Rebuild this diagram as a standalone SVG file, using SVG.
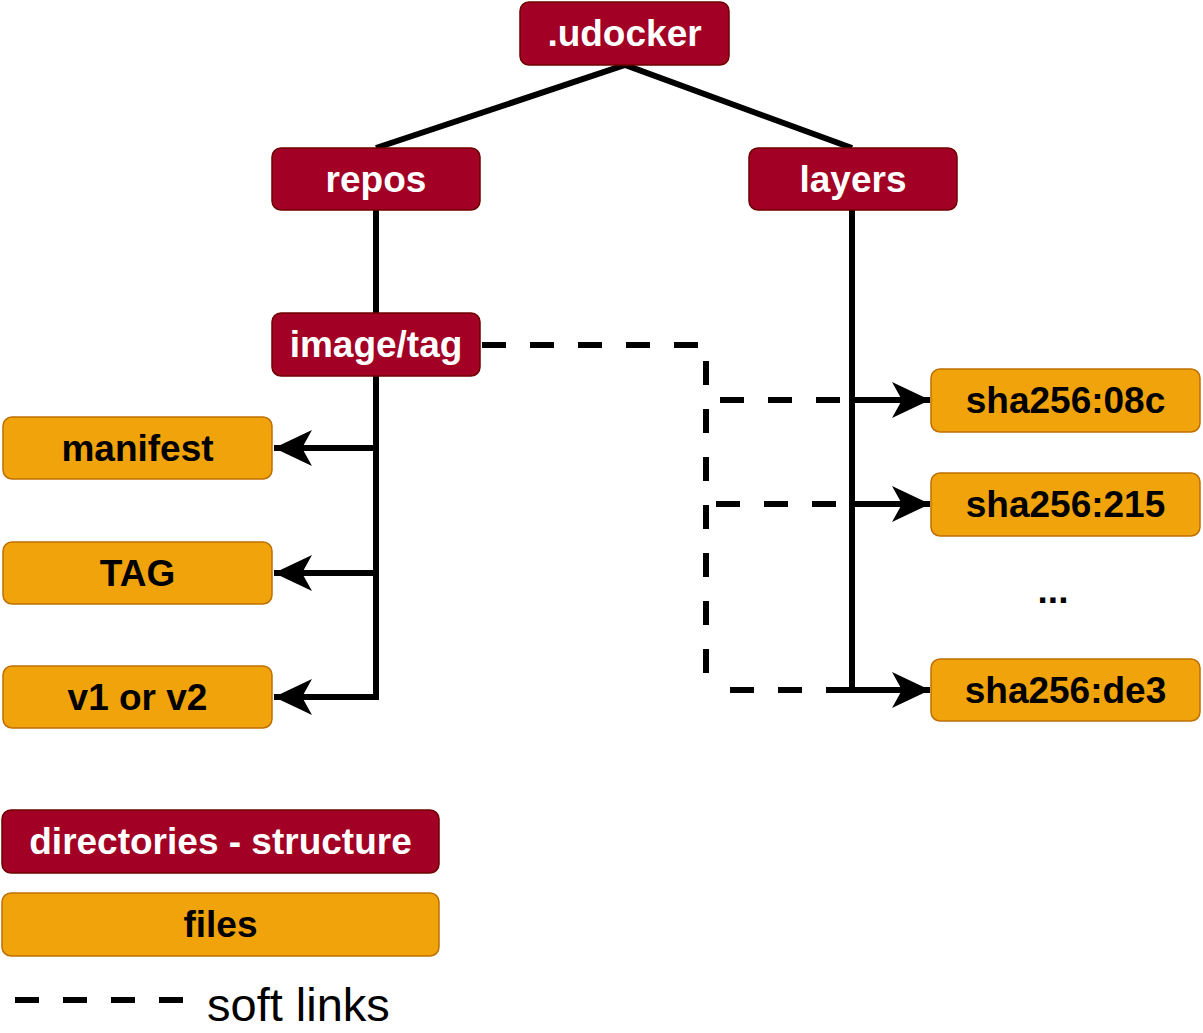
<svg xmlns="http://www.w3.org/2000/svg" width="1203" height="1033" viewBox="0 0 1203 1033">
<style>
.dir rect{fill:#a20025;stroke:#6f0000;stroke-width:1.5}
.file rect{fill:#f0a30a;stroke:#bd7000;stroke-width:1.5}
text{font-family:"Liberation Sans",Arial,sans-serif;font-weight:bold;font-size:37px;text-anchor:middle;dominant-baseline:central}
.dir text{fill:#ffffff}
.file text{fill:#000000}
.ln{fill:none;stroke:#000;stroke-width:6}
.dash{fill:none;stroke:#000;stroke-width:6;stroke-dasharray:24 24}
</style>
<defs>
<marker id="arr" viewBox="0 0 40 40" refX="38" refY="20" markerWidth="40" markerHeight="40" markerUnits="userSpaceOnUse" orient="auto">
<path d="M38,20 L0,2 L10,20 L0,38 Z" fill="#000"/>
</marker>
</defs>
<g id="connectors">
<path class="ln" d="M376,148 L625,65 L852,148"/>
<path class="ln" d="M376,210 L376,313"/>
<path class="ln" d="M852,210 L852,690"/>
<path class="ln" d="M376,376 L376,697"/>
<path class="ln" d="M376,448 L274,448" marker-end="url(#arr)"/>
<path class="ln" d="M376,573 L274,573" marker-end="url(#arr)"/>
<path class="ln" d="M379,697 L274,697" marker-end="url(#arr)"/>
<path class="ln" d="M852,400 L930,400" marker-end="url(#arr)"/>
<path class="ln" d="M852,504 L930,504" marker-end="url(#arr)"/>
<path class="ln" d="M849,690 L930,690" marker-end="url(#arr)"/>
<path class="dash" d="M482,345 L706,345 L706,690"/>
<path class="dash" d="M720,400 L852,400"/>
<path class="dash" d="M716,504 L852,504"/>
<path class="dash" d="M730,690 L852,690"/>
<path class="dash" d="M15,1000 L185,1000"/>
</g>
<g id="udocker" class="dir"><rect x="520" y="2" width="209" height="63" rx="9"/><text x="624.5" y="33">.udocker</text></g>
<g id="repos" class="dir"><rect x="272" y="148" width="208" height="62" rx="9"/><text x="376" y="179">repos</text></g>
<g id="layers" class="dir"><rect x="749" y="148" width="208" height="62" rx="9"/><text x="853" y="179">layers</text></g>
<g id="imagetag" class="dir"><rect x="272" y="313" width="208" height="63" rx="9"/><text x="376" y="344">image/tag</text></g>
<g id="manifest" class="file"><rect x="3" y="417" width="269" height="62" rx="9"/><text x="137.5" y="448">manifest</text></g>
<g id="tag" class="file"><rect x="3" y="542" width="269" height="62" rx="9"/><text x="137.5" y="573">TAG</text></g>
<g id="v1v2" class="file"><rect x="3" y="666" width="269" height="62" rx="9"/><text x="137.5" y="697">v1 or v2</text></g>
<g id="sha08c" class="file"><rect x="931" y="369" width="269" height="63" rx="9"/><text x="1065.5" y="400">sha256:08c</text></g>
<g id="sha215" class="file"><rect x="931" y="473" width="269" height="63" rx="9"/><text x="1065.5" y="504">sha256:215</text></g>
<g id="dots"><text x="1053" y="590">...</text></g>
<g id="shade3" class="file"><rect x="931" y="659" width="269" height="62" rx="9"/><text x="1065.5" y="690">sha256:de3</text></g>
<g id="legend-dir" class="dir"><rect x="2" y="810" width="437" height="63" rx="9"/><text x="220.5" y="841">directories - structure</text></g>
<g id="legend-files" class="file"><rect x="2" y="893" width="437" height="63" rx="9"/><text x="220.5" y="924">files</text></g>
<g id="legend-soft"><text x="207" y="1004" style="font-weight:normal;font-size:47px;text-anchor:start">soft links</text></g>
</svg>
